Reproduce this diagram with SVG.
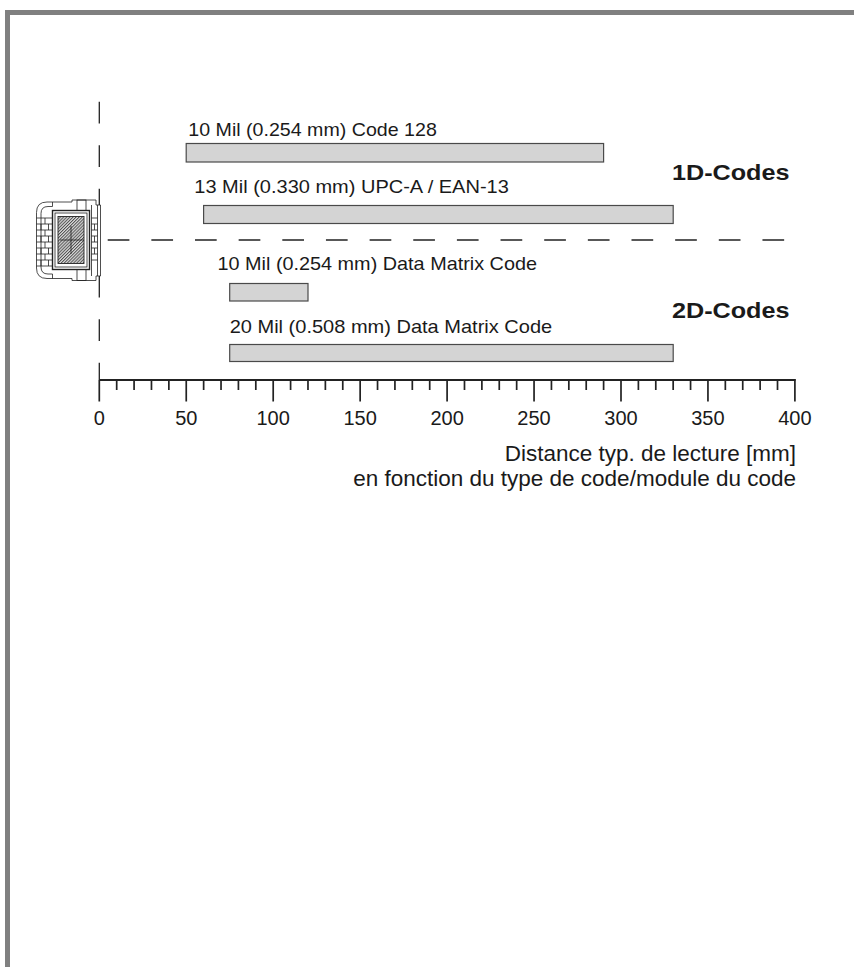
<svg xmlns="http://www.w3.org/2000/svg" width="854" height="967" viewBox="0 0 854 967">
<defs>
<pattern id="hatch" width="2.2" height="2.2" patternUnits="userSpaceOnUse" patternTransform="rotate(45)"><rect width="2.2" height="2.2" fill="#dadada"/><line x1="0.5" y1="0" x2="0.5" y2="2.2" stroke="#444" stroke-width="0.9"/></pattern>
</defs>
<style>
.lbl{font-family:"Liberation Sans",Arial,sans-serif;font-size:18.5px;fill:#1a1a1a}
.num{font-family:"Liberation Sans",Arial,sans-serif;font-size:20px;fill:#1a1a1a;text-anchor:middle}
.hd{font-family:"Liberation Sans",Arial,sans-serif;font-size:22px;font-weight:bold;fill:#1a1a1a}
.ttl{font-family:"Liberation Sans",Arial,sans-serif;font-size:22.5px;fill:#1a1a1a;text-anchor:end}
.bar{fill:#d4d4d4;stroke:#4a4a4a;stroke-width:1.2}
.dash{fill:none;stroke:#222;stroke-width:1.3}
.ax{stroke:#222;stroke-width:2;fill:none}
.tk{stroke:#222;stroke-width:1.7;fill:none}
.ln{fill:none;stroke:#222;stroke-width:0.8}
.lnw{fill:#fff;stroke:#222;stroke-width:0.8}
</style>
<rect width="854" height="967" fill="#fff"/>
<g id="frame">
<rect x="5" y="10" width="849" height="5" fill="#808080"/>
<rect x="5" y="10" width="5" height="957" fill="#808080"/>
</g>
<g id="connectors">
<line class="dash" x1="99.3" y1="101.7" x2="99.3" y2="380" stroke-dasharray="21.7 21.8"/>
<line class="dash" x1="107.7" y1="240" x2="784.3" y2="240" stroke-dasharray="21.7 21.95"/>
</g>
<g id="axis">
<line class="ax" x1="99.3" y1="380" x2="795.5" y2="380"/>
<path class="tk" d="M99.3,380V401.5M116.69,380V390M134.08,380V390M151.47,380V390M168.86,380V390M186.25,380V401.5M203.64,380V390M221.03,380V390M238.42,380V390M255.81,380V390M273.2,380V401.5M290.59,380V390M307.98,380V390M325.37,380V390M342.76,380V390M360.15,380V401.5M377.54,380V390M394.93,380V390M412.32,380V390M429.71,380V390M447.1,380V401.5M464.49,380V390M481.88,380V390M499.27,380V390M516.66,380V390M534.05,380V401.5M551.44,380V390M568.83,380V390M586.22,380V390M603.61,380V390M621,380V401.5M638.39,380V390M655.78,380V390M673.17,380V390M690.56,380V390M707.95,380V401.5M725.34,380V390M742.73,380V390M760.12,380V390M777.51,380V390M794.9,379V401.5"/>
<text class="num" x="99.3" y="424.5">0</text>
<text class="num" x="186.25" y="424.5">50</text>
<text class="num" x="273.2" y="424.5">100</text>
<text class="num" x="360.15" y="424.5">150</text>
<text class="num" x="447.1" y="424.5">200</text>
<text class="num" x="534.05" y="424.5">250</text>
<text class="num" x="621" y="424.5">300</text>
<text class="num" x="707.95" y="424.5">350</text>
<text class="num" x="794.9" y="424.5">400</text>
<text class="ttl" x="796" y="461">Distance typ. de lecture [mm]</text>
<text class="ttl" x="796" y="486">en fonction du type de code/module du code</text>
</g>
<g id="bar-code128">
<rect class="bar" x="186.2" y="143.5" width="417.4" height="18.5"/>
<text class="lbl" x="188.3" y="136" textLength="248.5" lengthAdjust="spacingAndGlyphs">10 Mil (0.254 mm) Code 128</text>
</g>
<g id="bar-upc">
<rect class="bar" x="203.6" y="205.5" width="469.6" height="18"/>
<text class="lbl" x="194.3" y="193" textLength="314.5" lengthAdjust="spacingAndGlyphs">13 Mil (0.330 mm) UPC-A / EAN-13</text>
</g>
<g id="bar-dm10">
<rect class="bar" x="229.7" y="283.5" width="78.3" height="17.5"/>
<text class="lbl" x="217.5" y="270" textLength="319.5" lengthAdjust="spacingAndGlyphs">10 Mil (0.254 mm) Data Matrix Code</text>
</g>
<g id="bar-dm20">
<rect class="bar" x="229.7" y="344.5" width="443.5" height="17"/>
<text class="lbl" x="229.7" y="332.7" textLength="322.5" lengthAdjust="spacingAndGlyphs">20 Mil (0.508 mm) Data Matrix Code</text>
</g>
<g id="heading-1d">
<text class="hd" x="672" y="180" textLength="117.5" lengthAdjust="spacingAndGlyphs">1D-Codes</text>
</g>
<g id="heading-2d">
<text class="hd" x="672" y="318.3" textLength="117.5" lengthAdjust="spacingAndGlyphs">2D-Codes</text>
</g>
<g id="scanner">
<path class="lnw" d="M47,202H72V200H96V205H100.5V276H96V280.5H72V278.5H47Q36.5,278.5 36.5,268V212.5Q36.5,202 47,202Z"/>
<path class="ln" d="M52.5,206.5H48Q41,206.5 41,213.5V267Q41,274 48,274H52.5"/>
<path class="ln" d="M36.5,218H52.5M36.5,224H52.5M36.5,230H52.5M36.5,236H52.5M36.5,242H52.5M36.5,248H52.5M36.5,254H52.5M36.5,260H52.5M36.5,266H52.5M45,218V224M41,224V230M48.5,224V230M45,230V236M41,236V242M48.5,236V242M45,242V248M41,248V254M48.5,248V254M45,254V260M41,260V266M48.5,260V266"/>
<rect x="52.5" y="210.5" width="37" height="59" fill="#fff" stroke="#222" stroke-width="1.4"/>
<rect class="ln" x="55" y="213" width="32" height="54"/>
<rect x="58" y="216.5" width="26" height="47" fill="url(#hatch)" stroke="#222" stroke-width="0.9"/>
<path class="ln" d="M60,240H84M71,226V254"/>
<path class="ln" d="M91.5,205V276M97.5,205V276M91.5,218H97.5M91.5,224H97.5M91.5,230H97.5M91.5,236H97.5M91.5,242H97.5M91.5,248H97.5M91.5,254H97.5M91.5,260H97.5M94.5,224V230M94.5,236V242M94.5,248V254"/>
<rect class="ln" x="77" y="200" width="9" height="10.5"/>
<rect class="ln" x="77" y="269.5" width="9" height="11"/>
<path class="ln" d="M52.5,202V206.5M52.5,274V278.5"/>
</g>
</svg>
